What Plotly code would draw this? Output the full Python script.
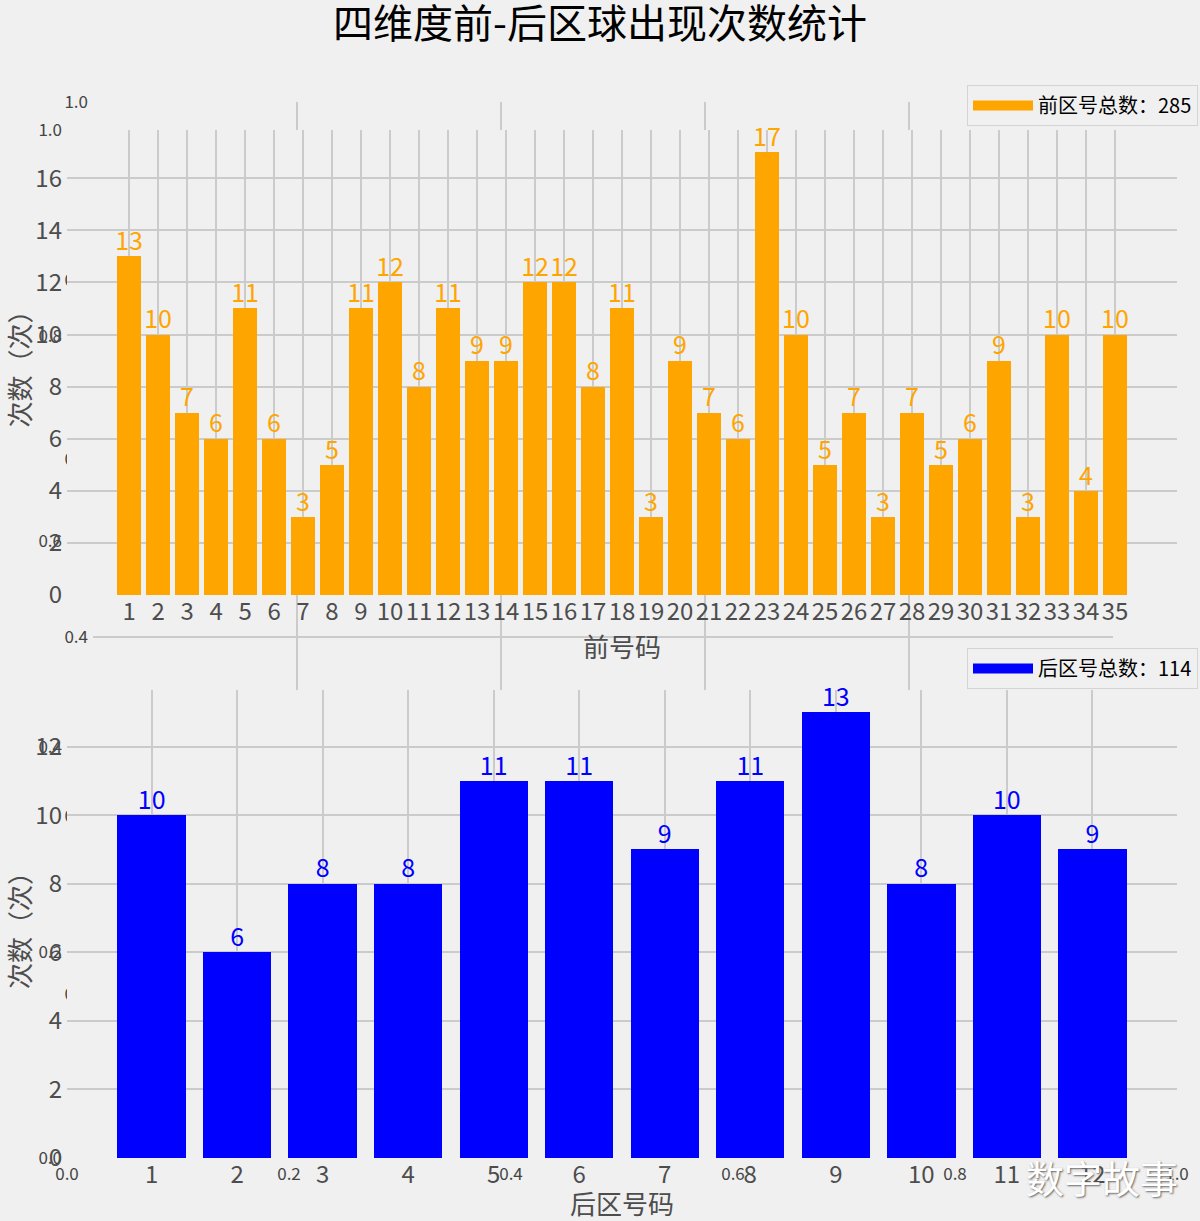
import plotly.graph_objects as go

# ---------------- data ----------------
front_numbers = list(range(1, 36))
front_counts = [13, 10, 7, 6, 11, 6, 3, 5, 11, 12, 8, 11, 9, 9, 12, 12, 8, 11, 3, 9,
                7, 6, 17, 10, 5, 7, 3, 7, 5, 6, 9, 3, 10, 4, 10]
back_numbers = list(range(1, 13))
back_counts = [10, 6, 8, 8, 11, 11, 9, 11, 13, 8, 10, 9]

overlay_ticks = [0.0, 0.2, 0.4, 0.6, 0.8, 1.0]
overlay_labels = ["0.0", "0.2", "0.4", "0.6", "0.8", "1.0"]
overlay_grid = [0.2, 0.4, 0.6, 0.8]

front_color = "#ffa500"
back_color = "#0000ff"
W, H = 1200, 1221
FONT = "Noto Sans CJK SC"
TICK_COLOR = "#4d4d4d"
GRID = "#cbcbcb"
BG = "#f0f0f0"


def px_x(p):
    return p / W


def px_y(p):
    return (H - p) / H


fig = go.Figure()

# empty traces for the stray background axes
fig.add_trace(go.Scatter(x=[], y=[], xaxis="x", yaxis="y", showlegend=False))
fig.add_trace(go.Scatter(x=[], y=[], xaxis="x2", yaxis="y2", showlegend=False))

front_name = f"前区号总数：{sum(front_counts)}"
back_name = f"后区号总数：{sum(back_counts)}"

# top: front numbers
fig.add_trace(go.Bar(
    x=front_numbers, y=front_counts, width=0.8, marker_color=front_color,
    marker_line_width=0, name=front_name, showlegend=False,
    xaxis="x3", yaxis="y3", hoverinfo="x+y"))
fig.add_trace(go.Scatter(
    x=front_numbers, y=front_counts, mode="text", text=[str(v) for v in front_counts],
    textposition="top center", textfont=dict(color=front_color, size=25, family=FONT),
    xaxis="x3", yaxis="y3", showlegend=False, cliponaxis=False, hoverinfo="skip"))
# legend patch (wide swatch like the reference)
fig.add_trace(go.Scatter(
    x=[None], y=[None], mode="lines", line=dict(color=front_color, width=15),
    name=front_name, xaxis="x3", yaxis="y3", legend="legend"))

# bottom: back numbers
fig.add_trace(go.Bar(
    x=back_numbers, y=back_counts, width=0.8, marker_color=back_color,
    marker_line_width=0, name=back_name, showlegend=False,
    xaxis="x4", yaxis="y4", hoverinfo="x+y"))
fig.add_trace(go.Scatter(
    x=back_numbers, y=back_counts, mode="text", text=[str(v) for v in back_counts],
    textposition="top center", textfont=dict(color=back_color, size=25, family=FONT),
    xaxis="x4", yaxis="y4", showlegend=False, cliponaxis=False, hoverinfo="skip"))
fig.add_trace(go.Scatter(
    x=[None], y=[None], mode="lines", line=dict(color=back_color, width=15),
    name=back_name, xaxis="x4", yaxis="y4", legend="legend2"))

overlay_font = dict(family=FONT, size=17, color="#444444")
main_tick_font = dict(family=FONT, size=24, color=TICK_COLOR)
title_font = dict(family=FONT, size=26, color=TICK_COLOR)

common_main = dict(showline=False, zeroline=False, ticks="", showgrid=True,
                   gridcolor=GRID, gridwidth=1.5, tickfont=main_tick_font,
                   automargin=False, tickangle=0)
common_overlay = dict(showgrid=False, zeroline=False, showline=False, ticks="",
                      tickfont=overlay_font, ticklabelstandoff=4, fixedrange=True,
                      automargin=False, tickangle=0)

legend_style = dict(xanchor="right", yanchor="top", bgcolor=BG, bordercolor="#d4d4d4",
                    borderwidth=1, font=dict(family=FONT, size=20, color="#000000"),
                    itemwidth=60)

fig.update_layout(
    width=W, height=H,
    paper_bgcolor=BG, plot_bgcolor=BG,
    margin=dict(l=0, r=0, t=0, b=0, autoexpand=False),
    font=dict(family=FONT, color=TICK_COLOR),
    title=dict(text="四维度前-后区球出现次数统计", x=0.5, xanchor="center",
               y=px_y(24), yanchor="middle",
               font=dict(family=FONT, size=40, color="#000000")),
    # stray overlay A
    xaxis=dict(domain=[px_x(67), px_x(1177)], range=[0, 1], anchor="y",
               tickvals=overlay_ticks, ticktext=overlay_labels, **common_overlay),
    yaxis=dict(domain=[px_y(1158), px_y(130)], range=[0, 1], anchor="x",
               tickvals=overlay_ticks, ticktext=overlay_labels, **common_overlay),
    # stray overlay B
    xaxis2=dict(domain=[px_x(93), px_x(1113)], range=[0, 1], anchor="y2",
                showticklabels=False,
                minor=dict(tickvals=overlay_grid, showgrid=True, gridcolor=GRID,
                           gridwidth=1.5, ticks=""), **common_overlay),
    yaxis2=dict(domain=[px_y(994), px_y(102)], range=[0, 1], anchor="x2",
                tickvals=overlay_ticks, ticktext=overlay_labels,
                minor=dict(tickvals=overlay_grid, showgrid=True, gridcolor=GRID,
                           gridwidth=1.5, ticks=""), **common_overlay),
    # top main
    xaxis3=dict(domain=[px_x(67), px_x(1177)], range=[-1.14, 37.14], anchor="y3",
                tickvals=front_numbers, ticklabelstandoff=0,
                title=dict(text="前号码", font=title_font, standoff=3),
                **common_main),
    yaxis3=dict(domain=[px_y(595), px_y(130)], range=[0, 17.85], anchor="x3",
                tickvals=list(range(0, 17, 2)), ticklabelstandoff=4,
                title=dict(text="次数（次）", font=title_font, standoff=0),
                **common_main),
    # bottom main
    xaxis4=dict(domain=[px_x(67), px_x(1177)], range=[0.01, 12.99], anchor="y4",
                tickvals=back_numbers, ticklabelstandoff=0,
                title=dict(text="后区号码", font=title_font, standoff=6),
                **common_main),
    yaxis4=dict(domain=[px_y(1158), px_y(690)], range=[0, 13.65], anchor="x4",
                tickvals=list(range(0, 13, 2)), ticklabelstandoff=4,
                title=dict(text="次数（次）", font=title_font, standoff=0),
                **common_main),
    legend=dict(x=px_x(1198), y=px_y(85), **legend_style),
    legend2=dict(x=px_x(1198), y=px_y(648), **legend_style),
    bargap=0,
    showlegend=True,
)

fig.add_annotation(
    text="数字故事", xref="paper", yref="paper", x=px_x(1102), y=px_y(1176),
    xanchor="center", yanchor="middle", showarrow=False,
    font=dict(family=FONT, size=38, color="#ffffff", shadow="1px 1px 2px #666666"))

fig.write_html("out.html", config={"displayModeBar": False},
               post_script="document.body.style.margin='0';")
